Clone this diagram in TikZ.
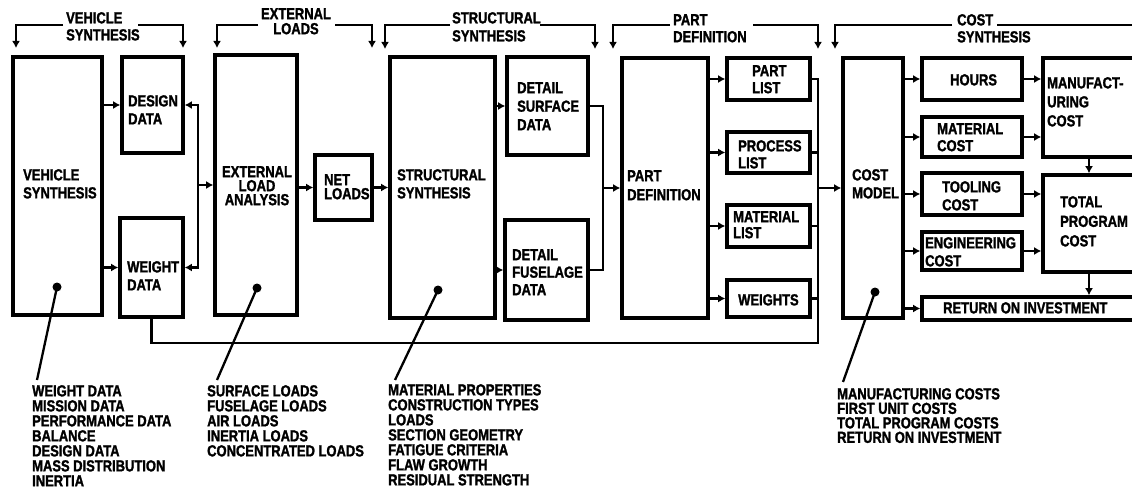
\documentclass[tikz,border=0pt]{standalone}
\usepackage{fontspec}
\setmainfont{Liberation Sans}[FakeStretch=0.81,BoldFeatures={FakeBold=1.5}]
\usetikzlibrary{arrows.meta,fit}
\begin{document}
\begin{tikzpicture}[x=1pt,y=-1pt,
  box/.style={draw,line width=3.6pt,inner sep=0pt},
  wire/.style={line width=2.3pt},
  tip/.style={wire,-{Latex[length=7pt,width=8pt]}},
  btip/.style={wire,{Latex[length=7pt,width=8pt]}-},
  lab/.style={font=\bfseries\fontsize{16}{#1}\selectfont,inner sep=0pt,anchor=north west,align=left},
  lab/.default=18,
  labc/.style={lab=#1,anchor=north,align=center},
  labc/.default=18,
  dot/.style={fill=black}
]
\useasboundingbox (0,0) rectangle (1132,489);
\clip (0,0) rectangle (1132,489);

% ---------- boxes ----------
\node[box,fit={(13,57) (102,315)}] (vs) {};
\node[box,fit={(122,57) (183,153)}] (dd) {};
\node[box,fit={(120,218) (183,317)}] (wd) {};
\node[box,fit={(215,55) (297,315)}] (ela) {};
\node[box,fit={(315,155) (372,220)}] (nl) {};
\node[box,fit={(390,57) (495,318)}] (ss) {};
\node[box,fit={(507,57) (588,155)}] (dsd) {};
\node[box,fit={(505,220) (588,320)}] (dfd) {};
\node[box,fit={(622,58) (708,318)}] (pd) {};
\node[box,fit={(727,58) (810,100)}] (pl) {};
\node[box,fit={(727,132) (810,173)}] (prl) {};
\node[box,fit={(727,205) (810,247)}] (ml) {};
\node[box,fit={(727,280) (810,317)}] (wt) {};
\node[box,fit={(843,58) (903,318)}] (cm) {};
\node[box,fit={(922,58) (1022,100)}] (hr) {};
\node[box,fit={(922,117) (1022,157)}] (mc) {};
\node[box,fit={(922,173) (1022,215)}] (tc) {};
\node[box,fit={(922,232) (1022,270)}] (ec) {};
\node[box,fit={(922,297) (1140,320)}] (roi) {};
\node[box,fit={(1043,58) (1135,157)}] (mf) {};
\node[box,fit={(1043,175) (1135,272)}] (tp) {};

% ---------- box texts ----------
\node[lab] (tvs) at (23,169) {VEHICLE\\SYNTHESIS};
\node[lab] (tdd) at (128,95) {DESIGN\\DATA};
\node[lab] (twd) at (127,261) {WEIGHT\\DATA};
\node[labc=14] (tela) at (257,166) {EXTERNAL\\LOAD\\ANALYSIS};
\node[lab=14] (tnl) at (324,174) {NET\\LOADS};
\node[lab] (tss) at (397,169) {STRUCTURAL\\SYNTHESIS};
\node[lab=18.5] (tdsd) at (517,82) {DETAIL\\SURFACE\\DATA};
\node[lab=17.5] (tdfd) at (512,249) {DETAIL\\FUSELAGE\\DATA};
\node[lab=19] (tpd) at (627,170) {PART\\DEFINITION};
\node[lab=17] (tpl) at (752,65) {PART\\LIST};
\node[lab=17] (tprl) at (738,140) {PROCESS\\LIST};
\node[lab=16] (tml) at (733,211) {MATERIAL\\LIST};
\node[lab] (twt) at (738,294) {WEIGHTS};
\node[lab] (tcm) at (852,169) {COST\\MODEL};
\node[lab] (thr) at (950,74) {HOURS};
\node[lab=17] (tmc) at (937,123) {MATERIAL\\COST};
\node[lab] (ttc) at (942,181) {TOOLING\\COST};
\node[lab] (tec) at (925,237) {ENGINEERING\\COST};
\node[lab] (troi) at (943,302) {RETURN ON INVESTMENT};
\node[lab=19] (tmf) at (1047,77) {MANUFACT-\\URING\\COST};
\node[lab=19.5] (ttp) at (1060,196) {TOTAL\\PROGRAM\\COST};

% ---------- bracket labels ----------
\node[lab=17] (lvs) at (66,12) {VEHICLE\\SYNTHESIS};
\node[labc=15] (lel) at (296,8) {EXTERNAL\\LOADS};
\node[lab] (lss) at (452,12) {STRUCTURAL\\SYNTHESIS};
\node[lab=17] (lpd) at (673,14) {PART\\DEFINITION};
\node[lab=17] (lcs) at (957,14) {COST\\SYNTHESIS};

% ---------- brackets ----------
\coordinate (b1a) at (63,25);   \coordinate (b1b) at (16,48);
\coordinate (b1c) at (138,25);  \coordinate (b1d) at (183,48);
\coordinate (b2a) at (258,25);  \coordinate (b2b) at (217,48);
\coordinate (b2c) at (335,25);  \coordinate (b2d) at (372,48);
\coordinate (b3a) at (450,25);  \coordinate (b3b) at (385,49);
\coordinate (b3c) at (540,25);  \coordinate (b3d) at (595,49);
\coordinate (b4a) at (670,25);  \coordinate (b4b) at (613,49);
\coordinate (b4c) at (753,25);  \coordinate (b4d) at (818,49);
\coordinate (b5a) at (952,25);  \coordinate (b5b) at (835,49);
\coordinate (b5c) at (997,25);  \coordinate (b5d) at (1140,25);
\draw[tip] (b1a) -| (b1b);  \draw[tip] (b1c) -| (b1d);
\draw[tip] (b2a) -| (b2b);  \draw[tip] (b2c) -| (b2d);
\draw[tip] (b3a) -| (b3b);  \draw[tip] (b3c) -| (b3d);
\draw[tip] (b4a) -| (b4b);  \draw[tip] (b4c) -| (b4d);
\draw[tip] (b5a) -| (b5b);  \draw[wire] (b5c) -- (b5d);

% ---------- connectors ----------
\draw[tip] (dd.west -| vs.east) -- (dd.west);
\draw[tip] (wd.west -| vs.east) -- (wd.west);
\coordinate (t1) at ([xshift=-15pt]ela.west);
\draw[btip] (dd.east) -| (t1);
\draw[btip] (wd.east) -| (t1);
\draw[tip] (t1) -- (ela.west);
\draw[tip] (nl.west -| ela.east) -- (nl.west);
\draw[tip] (nl.east) -- (nl.east -| ss.west);
\draw[tip] (dsd.west -| ss.east) -- (dsd.west);
\draw[tip] (dfd.west -| ss.east) -- (dfd.west);
\coordinate (t2) at ([xshift=-17pt]pd.west);
\draw[wire] (dsd.east) -| (t2);
\draw[wire] (dfd.east) -| (t2);
\draw[tip] (t2) -- (pd.west);
\draw[tip] (pl.west -| pd.east) -- (pl.west);
\draw[tip] (prl.west -| pd.east) -- (prl.west);
\draw[tip] (ml.west -| pd.east) -- (ml.west);
\draw[tip] (wt.west -| pd.east) -- (wt.west);
\coordinate (t3) at ([xshift=-23pt]cm.west);
\draw[wire] (pl.east) -| (t3);
\draw[wire] (prl.east) -| (t3);
\draw[wire] (ml.east) -| (t3);
\draw[wire] (wt.east) -| (t3);
\draw[wire] (wd.south) -- ++(0,24) -| (t3);
\draw[tip] (t3) -- (cm.west);
\draw[tip] (hr.west -| cm.east) -- (hr.west);
\draw[tip] (mc.west -| cm.east) -- (mc.west);
\draw[tip] (tc.west -| cm.east) -- (tc.west);
\draw[tip] (ec.west -| cm.east) -- (ec.west);
\draw[tip] (roi.west -| cm.east) -- (roi.west);
\draw[tip] (hr.east) -- (hr.east -| mf.west);
\draw[tip] (mc.east) -- (mc.east -| mf.west);
\draw[tip] (tc.east) -- (tc.east -| tp.west);
\draw[tip] (ec.east) -- (ec.east -| tp.west);
\draw[tip] (mf.south) -- (tp.north);
\draw[tip] (tp.south) -- (tp.south |- roi.north);

% ---------- pointers ----------
\coordinate (p1a) at (57,287);  \coordinate (p1b) at (37,380);
\coordinate (p2a) at (257,288); \coordinate (p2b) at (217,380);
\coordinate (p3a) at (438,290); \coordinate (p3b) at (395,380);
\coordinate (p4a) at (875,292); \coordinate (p4b) at (843,382);
\foreach \i in {1,2,3,4}{
  \fill[dot] (p\i a) circle (4.5pt);
  \draw[wire] (p\i a) -- (p\i b);
}

% ---------- lists ----------
\node[lab=15] (lst1) at (32,385) {WEIGHT DATA\\MISSION DATA\\PERFORMANCE DATA\\BALANCE\\DESIGN DATA\\MASS DISTRIBUTION\\INERTIA};
\node[lab=15] (lst2) at (207,385) {SURFACE LOADS\\FUSELAGE LOADS\\AIR LOADS\\INERTIA LOADS\\CONCENTRATED LOADS};
\node[lab=15] (lst3) at (388,384) {MATERIAL PROPERTIES\\CONSTRUCTION TYPES\\LOADS\\SECTION GEOMETRY\\FATIGUE CRITERIA\\FLAW GROWTH\\RESIDUAL STRENGTH};
\node[lab=14.5] (lst4) at (837,388) {MANUFACTURING COSTS\\FIRST UNIT COSTS\\TOTAL PROGRAM COSTS\\RETURN ON INVESTMENT};
\end{tikzpicture}
\end{document}
